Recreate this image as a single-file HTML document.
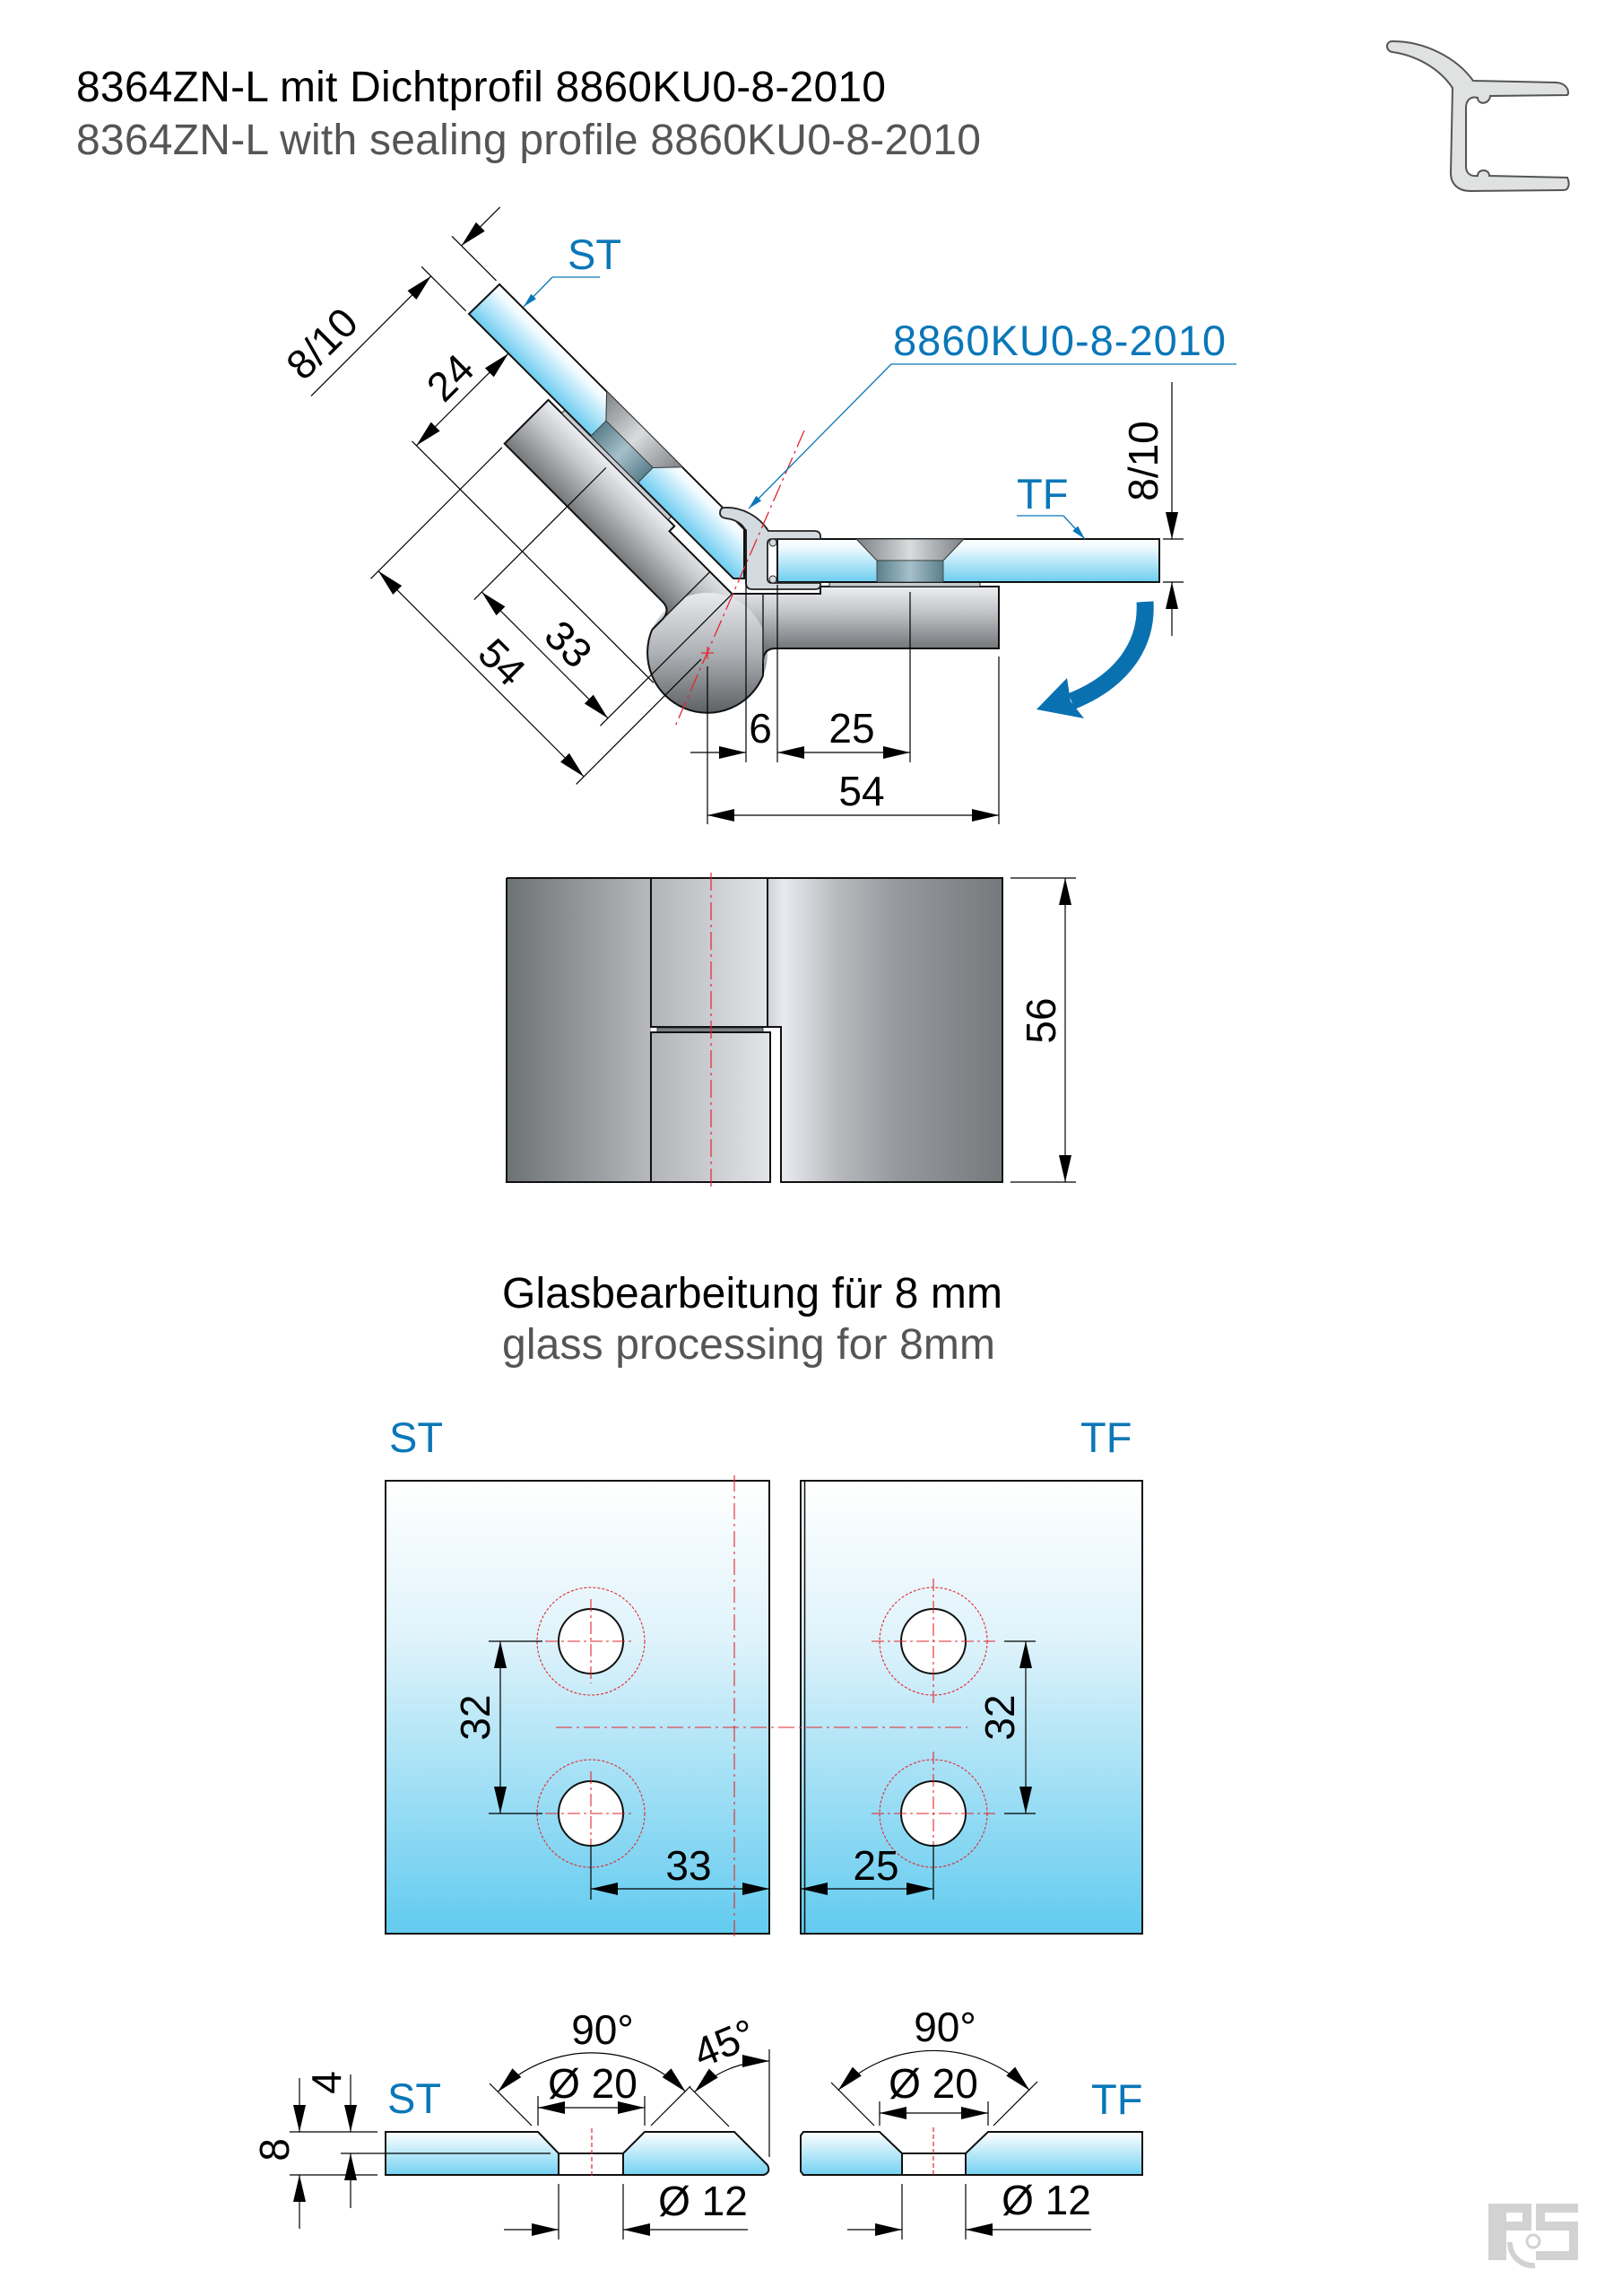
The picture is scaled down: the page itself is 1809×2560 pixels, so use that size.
<!DOCTYPE html>
<html><head><meta charset="utf-8"><style>
html,body{margin:0;padding:0;background:#fff;}
svg{display:block;}
text{font-family:"Liberation Sans",Arial,sans-serif;}
</style></head><body>
<svg width="1809" height="2560" viewBox="0 0 1809 2560" xmlns="http://www.w3.org/2000/svg">
<defs>
<marker id="a" viewBox="0 0 30 14" refX="30" refY="7" markerWidth="30" markerHeight="14" markerUnits="userSpaceOnUse" orient="auto-start-reverse"><path d="M0,0 L30,7 L0,14 Z" fill="#000"/></marker>
<marker id="b" viewBox="0 0 16 8" refX="16" refY="4" markerWidth="16" markerHeight="8" markerUnits="userSpaceOnUse" orient="auto"><path d="M0,0 L16,4 L0,8 Z" fill="#0a77b8"/></marker>
<linearGradient id="gGlassV" x1="0" y1="0" x2="0" y2="1"><stop offset="0" stop-color="#ffffff"/><stop offset="0.2" stop-color="#eefaff"/><stop offset="1" stop-color="#6ccdf0"/></linearGradient>
<linearGradient id="gGlassST" gradientUnits="userSpaceOnUse" x1="667" y1="426" x2="633" y2="460"><stop offset="0" stop-color="#ffffff"/><stop offset="0.2" stop-color="#eefaff"/><stop offset="1" stop-color="#6ccdf0"/></linearGradient>
<linearGradient id="gPanel" x1="0" y1="0" x2="0" y2="1"><stop offset="0" stop-color="#ffffff"/><stop offset="0.35" stop-color="#dff3fb"/><stop offset="1" stop-color="#62cbef"/></linearGradient>
<linearGradient id="gSec" x1="0" y1="0" x2="0" y2="1"><stop offset="0" stop-color="#ffffff"/><stop offset="1" stop-color="#74d2f2"/></linearGradient>
<linearGradient id="gArm" gradientUnits="userSpaceOnUse" x1="0" y1="-74" x2="0" y2="-5"><stop offset="0" stop-color="#eceef1"/><stop offset="0.4" stop-color="#c3c5c9"/><stop offset="1" stop-color="#73777a"/></linearGradient>
<linearGradient id="gBall" gradientUnits="userSpaceOnUse" x1="789" y1="661" x2="789" y2="795"><stop offset="0" stop-color="#e9eaee"/><stop offset="0.5" stop-color="#aeb1b5"/><stop offset="1" stop-color="#5d6164"/></linearGradient>
<linearGradient id="gCone" x1="0" y1="0" x2="1" y2="0"><stop offset="0" stop-color="#7c8185"/><stop offset="0.5" stop-color="#d9dbdd"/><stop offset="1" stop-color="#7c8185"/></linearGradient>
<linearGradient id="gCyl" x1="0" y1="0" x2="1" y2="0"><stop offset="0" stop-color="#5b7f8c"/><stop offset="0.5" stop-color="#a6c0c9"/><stop offset="1" stop-color="#5b7f8c"/></linearGradient>
<linearGradient id="gFL" x1="0" y1="0" x2="1" y2="0"><stop offset="0" stop-color="#6d7275"/><stop offset="1" stop-color="#b7b9bc"/></linearGradient>
<linearGradient id="gFM" x1="0" y1="0" x2="1" y2="0"><stop offset="0" stop-color="#b2b4b7"/><stop offset="1" stop-color="#e3e4e8"/></linearGradient>
<linearGradient id="gFR" x1="0" y1="0" x2="1" y2="0"><stop offset="0" stop-color="#cfd0d5"/><stop offset="0.07" stop-color="#e9eaef"/><stop offset="0.3" stop-color="#b7b9bd"/><stop offset="0.55" stop-color="#96999d"/><stop offset="1" stop-color="#75797c"/></linearGradient>

<g id="arm">
 <path d="M27,-66 L126,-66 L126,-74 L325,-74 L325,-5 L76,-5 Q62,-5 62,10 L62,-25.4 A67,67 0 0,0 27,-61.3 Z" fill="url(#gArm)"/>
 <path d="M27,-66 L126,-66 L126,-74 L325,-74 L325,-5 L76,-5 Q62,-5 62,10 L62,25.4" fill="none" stroke="#111" stroke-width="2"/>
 <line x1="62" y1="-66" x2="62" y2="12" stroke="#222" stroke-width="1.5"/>
 <rect x="136" y="-79" width="168" height="5" fill="#c8cbcf" stroke="#222" stroke-width="1"/>
</g>
<g id="cs">
 <path d="M166,-127 L286,-127 L263,-103 L189,-103 Z" fill="url(#gCone)" stroke="#333" stroke-width="1"/>
 <rect x="189" y="-103" width="74" height="24" fill="url(#gCyl)" stroke="#333" stroke-width="0.8"/>
</g>
</defs>

<rect x="0" y="0" width="1809" height="2560" fill="#fff"/>

<!-- Titles -->
<text x="85" y="113" font-size="48" fill="#000" textLength="903">8364ZN-L mit Dichtprofil 8860KU0-8-2010</text>
<text x="85" y="172" font-size="48" fill="#555" textLength="1009">8364ZN-L with sealing profile 8860KU0-8-2010</text>

<!-- profile icon -->
<path d="M1553,46 C1590,46 1625,65 1643,90 L1736,92 C1748,93 1751,103 1748,106 L1662,107 C1661,117 1648,117 1648,109 C1640,107 1635,112 1635,120 L1635,186 C1635,193 1640,197 1648,196 C1648,188 1661,188 1661,196 L1748,198 C1751,204 1750,212 1744,212 L1640,213 C1626,213 1618,205 1618,193 L1620,98 C1605,76 1580,62 1553,58 C1545,57 1545,46 1553,46 Z" fill="#dfe2e1" stroke="#555" stroke-width="2"/>

<!-- HINGE TOP VIEW -->
<circle cx="789" cy="728" r="67" fill="url(#gBall)"/>
<use href="#arm" transform="translate(789,728)"/>
<use href="#arm" transform="matrix(-0.7071,-0.7071,-0.7071,0.7071,789,728)"/>
<path d="M851,753.4 A67,67 0 1,1 727.2,702.1" fill="none" stroke="#111" stroke-width="2"/>

<!-- ST glass -->
<path d="M557,317 L830,590 L830,645 L818,645 L523,350 Z" fill="url(#gGlassST)" stroke="#111" stroke-width="2"/>
<use href="#cs" transform="matrix(-0.7071,-0.7071,-0.7071,0.7071,789,728)"/>
<!-- TF glass -->
<rect x="867" y="601" width="426" height="48" fill="url(#gGlassV)" stroke="#111" stroke-width="2"/>
<use href="#cs" transform="translate(789,728)"/>

<!-- sealing profile -->
<path d="M808,566 C828,565 847,576 857,592 L908,592 Q915,592 915,598 L915,601 L861,601 Q856,601 856,606 L856,645 Q856,650 861,650 L915,650 L915,652 Q915,657 909,657 L839,657 Q832,657 832,650 L832,592 Q826,580 810,578 Q803,577 803,572 Q803,566 808,566 Z" fill="#d3dbe0" stroke="#222" stroke-width="1.8"/>
<circle cx="862" cy="605" r="4" fill="#d3dbe0" stroke="#222" stroke-width="1"/>
<circle cx="862" cy="646" r="4" fill="#d3dbe0" stroke="#222" stroke-width="1"/>

<!-- red symmetry line -->
<line x1="897" y1="480" x2="752" y2="812" stroke="#e3262e" stroke-width="1.3" stroke-dasharray="20 5 3 5"/>
<line x1="782" y1="728" x2="796" y2="728" stroke="#e3262e" stroke-width="1.2"/>
<line x1="789" y1="721" x2="789" y2="735" stroke="#e3262e" stroke-width="1.2"/>

<!-- TF dimensions -->
<g stroke="#000" stroke-width="1.2" fill="none">
 <line x1="789" y1="743" x2="789" y2="919"/>
 <line x1="832" y1="590" x2="832" y2="850"/>
 <line x1="867" y1="652" x2="867" y2="850"/>
 <line x1="1015" y1="660" x2="1015" y2="850"/>
 <line x1="1114" y1="732" x2="1114" y2="919"/>
 <line x1="770" y1="839" x2="832" y2="839" marker-end="url(#a)"/>
 <line x1="867" y1="839" x2="1015" y2="839" marker-start="url(#a)" marker-end="url(#a)"/>
 <line x1="789" y1="909" x2="1114" y2="909" marker-start="url(#a)" marker-end="url(#a)"/>
 <line x1="1297" y1="601" x2="1320" y2="601"/>
 <line x1="1297" y1="649" x2="1320" y2="649"/>
 <line x1="1307" y1="426" x2="1307" y2="601" marker-end="url(#a)"/>
 <line x1="1307" y1="709" x2="1307" y2="649" marker-end="url(#a)"/>
</g>
<g font-size="46" fill="#000" text-anchor="middle">
 <text x="848" y="828">6</text>
 <text x="950" y="828">25</text>
 <text x="961" y="898">54</text>
 <text transform="translate(1275,514) rotate(-90)" y="16">8/10</text>
</g>

<!-- ST dimensions -->
<g stroke="#000" stroke-width="1.2" fill="none">
 <line x1="519.6" y1="346.8" x2="470.1" y2="297.3"/>
 <line x1="553.5" y1="312.9" x2="504" y2="263.4"/>
 <line x1="347" y1="441.6" x2="480.7" y2="307.9" marker-end="url(#a)"/>
 <line x1="557.7" y1="230.9" x2="514.6" y2="274" marker-end="url(#a)"/>
 <line x1="464.4" y1="496.8" x2="567" y2="394.2" marker-start="url(#a)" marker-end="url(#a)"/>
 <line x1="459.5" y1="491.9" x2="728.9" y2="761.3"/>
 <line x1="651.1" y1="865.9" x2="422" y2="636.8" marker-start="url(#a)" marker-end="url(#a)"/>
 <line x1="559.9" y1="498.9" x2="413.5" y2="645.3"/>
 <line x1="781.9" y1="735.1" x2="642.6" y2="874.4"/>
 <line x1="678" y1="800.8" x2="537.3" y2="660.1" marker-start="url(#a)" marker-end="url(#a)"/>
 <line x1="675.9" y1="521.5" x2="528.8" y2="668.6"/>
 <line x1="815.9" y1="662.9" x2="669.5" y2="809.3"/>
</g>
<g font-size="46" fill="#000" text-anchor="middle">
 <text transform="translate(359,383) rotate(-45)" y="16">8/10</text>
 <text transform="translate(502,421) rotate(-45)" y="16">24</text>
 <text transform="translate(634,718) rotate(45)" y="16">33</text>
 <text transform="translate(560,738) rotate(45)" y="16">54</text>
</g>

<!-- blue labels -->
<g fill="#0a77b8" font-size="47">
 <text x="633" y="300">ST</text>
 <text x="996" y="396" textLength="371">8860KU0-8-2010</text>
 <text x="1134" y="567">TF</text>
</g>
<g stroke="#0a77b8" stroke-width="1.3" fill="none">
 <line x1="616" y1="309" x2="669" y2="309"/>
 <line x1="616" y1="309" x2="584" y2="342" marker-end="url(#b)"/>
 <line x1="994" y1="406" x2="1379" y2="406"/>
 <line x1="994" y1="406" x2="835" y2="567" marker-end="url(#b)"/>
 <line x1="1134" y1="575" x2="1186" y2="575"/>
 <line x1="1186" y1="575" x2="1210" y2="601" marker-end="url(#b)"/>
</g>

<!-- blue rotation arrow -->
<path d="M1277,671 C1280,720 1250,760 1195,782" fill="none" stroke="#0a71b1" stroke-width="19"/>
<path d="M1156,791 L1190,756 L1194,782 L1209,801 Z" fill="#0a71b1"/>

<!-- FRONT VIEW -->
<rect x="565" y="979" width="161" height="339" fill="url(#gFL)"/>
<rect x="726" y="979" width="130" height="166" fill="url(#gFM)"/>
<rect x="726" y="1151" width="133" height="167" fill="url(#gFM)"/>
<path d="M856,979 L1118,979 L1118,1318 L871,1318 L871,1145 L856,1145 Z" fill="url(#gFR)"/>
<path d="M733,1146 L851,1146 L851,1151 L733,1151 Z" fill="#7b7f82" stroke="#222" stroke-width="0.8"/>
<g stroke="#111" stroke-width="2" fill="none">
 <path d="M565,979 L1118,979 L1118,1318 L871,1318 L871,1145 L856,1145 L856,979"/>
 <path d="M726,979 L726,1145 L856,1145"/>
 <path d="M565,979 L565,1318 L859,1318 L859,1151 L726,1151 L726,1318"/>
</g>
<line x1="793" y1="973" x2="793" y2="1324" stroke="#e3262e" stroke-width="1.2" stroke-dasharray="20 5 3 5"/>
<g stroke="#000" stroke-width="1.2" fill="none">
 <line x1="1127" y1="979" x2="1200" y2="979"/>
 <line x1="1127" y1="1318" x2="1200" y2="1318"/>
 <line x1="1188" y1="979" x2="1188" y2="1318" marker-start="url(#a)" marker-end="url(#a)"/>
</g>
<text transform="translate(1161,1138) rotate(-90)" y="16" font-size="46" text-anchor="middle">56</text>

<!-- GLASS PROCESSING -->
<text x="560" y="1458" font-size="48" fill="#000" textLength="558">Glasbearbeitung für 8 mm</text>
<text x="560" y="1515" font-size="48" fill="#555" textLength="550">glass processing for 8mm</text>
<text x="434" y="1619" font-size="47" fill="#0a77b8">ST</text>
<text x="1205" y="1619" font-size="47" fill="#0a77b8">TF</text>

<rect x="430" y="1651" width="428" height="505" fill="url(#gPanel)" stroke="#111" stroke-width="2"/>
<rect x="893" y="1651" width="381" height="505" fill="url(#gPanel)" stroke="#111" stroke-width="2"/>
<line x1="897.5" y1="1651" x2="897.5" y2="2156" stroke="#111" stroke-width="1.5"/>

<g stroke="#e3262e" stroke-width="1.1" fill="none">
 <line x1="819" y1="1645" x2="819" y2="2160" stroke-dasharray="18 5 3 5"/>
 <line x1="620" y1="1926" x2="1079" y2="1926" stroke-dasharray="18 5 3 5"/>
 <circle cx="659" cy="1830" r="60" stroke-dasharray="3 2"/>
 <circle cx="659" cy="2022" r="60" stroke-dasharray="3 2"/>
 <circle cx="1041" cy="1830" r="60" stroke-dasharray="3 2"/>
 <circle cx="1041" cy="2022" r="60" stroke-dasharray="3 2"/>
</g>
<g fill="#fff" stroke="#111" stroke-width="2">
 <circle cx="659" cy="1830" r="36"/>
 <circle cx="659" cy="2022" r="36"/>
 <circle cx="1041" cy="1830" r="36"/>
 <circle cx="1041" cy="2022" r="36"/>
</g>
<g stroke="#e3262e" stroke-width="1.1" stroke-dasharray="14 4 3 4">
 <line x1="608" y1="1830" x2="706" y2="1830"/>
 <line x1="659" y1="1783" x2="659" y2="1877"/>
 <line x1="608" y1="2022" x2="706" y2="2022"/>
 <line x1="659" y1="1975" x2="659" y2="2069"/>
 <line x1="972" y1="1830" x2="1110" y2="1830"/>
 <line x1="1041" y1="1760" x2="1041" y2="1900"/>
 <line x1="972" y1="2022" x2="1110" y2="2022"/>
 <line x1="1041" y1="1953" x2="1041" y2="2090"/>
</g>
<g stroke="#000" stroke-width="1.2" fill="none">
 <line x1="545" y1="1830" x2="605" y2="1830"/>
 <line x1="545" y1="2022" x2="605" y2="2022"/>
 <line x1="558" y1="1830" x2="558" y2="2022" marker-start="url(#a)" marker-end="url(#a)"/>
 <line x1="1120" y1="1830" x2="1155" y2="1830"/>
 <line x1="1120" y1="2022" x2="1155" y2="2022"/>
 <line x1="1144" y1="1830" x2="1144" y2="2022" marker-start="url(#a)" marker-end="url(#a)"/>
 <line x1="659" y1="2057" x2="659" y2="2118"/>
 <line x1="659" y1="2106" x2="858" y2="2106" marker-start="url(#a)" marker-end="url(#a)"/>
 <line x1="1041" y1="2057" x2="1041" y2="2118"/>
 <line x1="893" y1="2106" x2="1041" y2="2106" marker-start="url(#a)" marker-end="url(#a)"/>
</g>
<g font-size="46" fill="#000" text-anchor="middle">
 <text transform="translate(530,1915) rotate(-90)" y="16">32</text>
 <text transform="translate(1115,1915) rotate(-90)" y="16">32</text>
 <text x="768" y="2096">33</text>
 <text x="977" y="2096">25</text>
</g>

<!-- BOTTOM SECTIONS: ST -->
<path d="M430,2377 L600,2377 L623,2401 L695,2401 L719,2377 L819,2377 L856,2414 Q860,2422 852,2425 L430,2425 Z" fill="url(#gSec)" stroke="#111" stroke-width="2"/>
<rect x="623" y="2401" width="72" height="24" fill="#fff" stroke="#111" stroke-width="2"/>
<line x1="660" y1="2373" x2="660" y2="2428" stroke="#e3262e" stroke-width="1.2" stroke-dasharray="5 3"/>
<g stroke="#000" stroke-width="1.2" fill="none">
 <line x1="380" y1="2401" x2="614" y2="2401"/>
 <line x1="323" y1="2377" x2="421" y2="2377"/>
 <line x1="323" y1="2425" x2="421" y2="2425"/>
 <line x1="334" y1="2317" x2="334" y2="2377" marker-end="url(#a)"/>
 <line x1="334" y1="2485" x2="334" y2="2425" marker-end="url(#a)"/>
 <line x1="391" y1="2313" x2="391" y2="2377" marker-end="url(#a)"/>
 <line x1="391" y1="2462" x2="391" y2="2401" marker-end="url(#a)"/>
 <line x1="600" y1="2337" x2="600" y2="2370"/>
 <line x1="719" y1="2337" x2="719" y2="2370"/>
 <line x1="600" y1="2350" x2="719" y2="2350" marker-start="url(#a)" marker-end="url(#a)"/>
 <line x1="593" y1="2370" x2="546" y2="2323"/>
 <line x1="726" y1="2370" x2="770" y2="2326"/>
 <line x1="769" y1="2327" x2="813" y2="2371"/>
 <line x1="858" y1="2285" x2="858" y2="2405"/>
 <path d="M555.3,2332.3 A148,148 0 0,1 764.7,2332.3" marker-start="url(#a)" marker-end="url(#a)"/>
 <path d="M774.6,2332.6 A118,118 0 0,1 858,2298" marker-start="url(#a)" marker-end="url(#a)"/>
 <line x1="623" y1="2435" x2="623" y2="2497"/>
 <line x1="695" y1="2435" x2="695" y2="2497"/>
 <line x1="562" y1="2486" x2="623" y2="2486" marker-end="url(#a)"/>
 <line x1="834" y1="2486" x2="695" y2="2486" marker-end="url(#a)"/>
</g>
<g font-size="46" fill="#000" text-anchor="middle">
 <text transform="translate(306,2397) rotate(-90)" y="16">8</text>
 <text transform="translate(364,2322) rotate(-90)" y="16">4</text>
 <text x="661" y="2339">Ø 20</text>
 <text x="672" y="2279">90°</text>
 <text transform="translate(808,2278) rotate(-22.5)" y="16">45°</text>
 <text x="784" y="2470">Ø 12</text>
</g>
<text x="432" y="2356" font-size="47" fill="#0a77b8">ST</text>

<!-- BOTTOM SECTIONS: TF -->
<path d="M896,2377 L981,2377 L1006,2401 L1077,2401 L1102,2377 L1274,2377 L1274,2425 L896,2425 L893,2421 L893,2381 Z" fill="url(#gSec)" stroke="#111" stroke-width="2"/>
<rect x="1006" y="2401" width="71" height="24" fill="#fff" stroke="#111" stroke-width="2"/>
<line x1="1041" y1="2372" x2="1041" y2="2428" stroke="#e3262e" stroke-width="1.2" stroke-dasharray="5 3"/>
<g stroke="#000" stroke-width="1.2" fill="none">
 <line x1="981" y1="2343" x2="981" y2="2370"/>
 <line x1="1102" y1="2343" x2="1102" y2="2370"/>
 <line x1="981" y1="2356" x2="1102" y2="2356" marker-start="url(#a)" marker-end="url(#a)"/>
 <line x1="975" y1="2370" x2="927" y2="2322"/>
 <line x1="1108" y1="2370" x2="1157" y2="2321"/>
 <path d="M934.7,2330.7 A151,151 0 0,1 1148.3,2330.7" marker-start="url(#a)" marker-end="url(#a)"/>
 <line x1="1006" y1="2435" x2="1006" y2="2497"/>
 <line x1="1077" y1="2435" x2="1077" y2="2497"/>
 <line x1="945" y1="2486" x2="1006" y2="2486" marker-end="url(#a)"/>
 <line x1="1217" y1="2486" x2="1077" y2="2486" marker-end="url(#a)"/>
</g>
<g font-size="46" fill="#000" text-anchor="middle">
 <text x="1041" y="2339">Ø 20</text>
 <text x="1054" y="2276">90°</text>
 <text x="1167" y="2469">Ø 12</text>
</g>
<text x="1217" y="2357" font-size="47" fill="#0a77b8">TF</text>

<!-- logo -->
<g fill="#d2d2d2">
 <rect x="1660" y="2457" width="48" height="10"/>
 <rect x="1698" y="2457" width="10" height="30"/>
 <rect x="1660" y="2477" width="48" height="10"/>
 <rect x="1660" y="2457" width="20" height="63"/>
 <rect x="1713" y="2457" width="47" height="10"/>
 <rect x="1713" y="2457" width="10" height="30"/>
 <rect x="1713" y="2477" width="47" height="10"/>
 <rect x="1750" y="2477" width="10" height="43"/>
 <rect x="1713" y="2510" width="47" height="10"/>
</g>
<path d="M1684,2500 A26,26 0 0,0 1712,2526" fill="none" stroke="#d2d2d2" stroke-width="6"/>
<circle cx="1710" cy="2499" r="7" fill="#fff" stroke="#d2d2d2" stroke-width="3"/>
</svg>
</body></html>
